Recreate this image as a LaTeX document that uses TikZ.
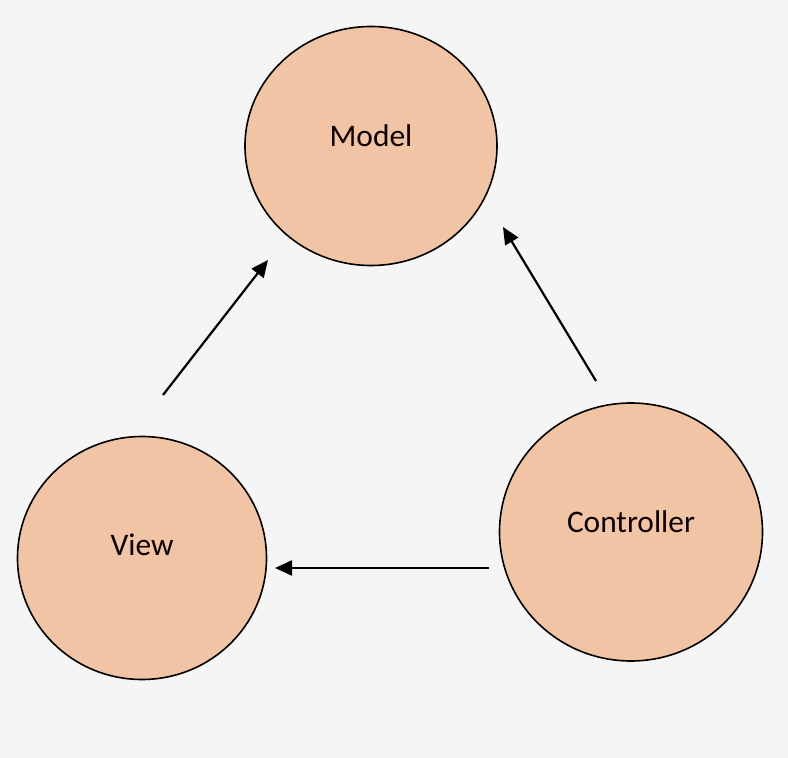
\documentclass[tikz,border=0pt]{standalone}
\usepackage{fontspec}
\setmainfont{Carlito}
\usetikzlibrary{positioning, arrows.meta, shapes.geometric, calc}
\definecolor{mvcfill}{RGB}{240,196,164}
\definecolor{mvcbg}{RGB}{246,245,245}

\tikzset{
    part/.style={ellipse, draw=black, line width=0.8pt, fill=mvcfill},
    tag/.style={font=\fontsize{15.7}{18}\selectfont, text=black!95!red},
    flow/.style={-{Triangle[length=8.5pt,width=7.5pt]}, line width=1.1pt}
}

\begin{document}
\begin{tikzpicture}[x=0.5pt, y=-0.5pt]
    \fill[mvcbg] (0,0) rectangle (788,758);
    \useasboundingbox (0,0) rectangle (788,758);

    % the three parts
    \node[part, minimum width=126pt, minimum height=119.5pt] (model) at (371,146) {};
    \node[part, minimum width=124.5pt, minimum height=121.5pt] (view) at (142,558) {};
    \node[part, minimum width=131.5pt, minimum height=129pt] (controller) at (631,532) {};

    \node[tag] (modeltxt) at ($(model)+(0,-10)$) {Model};
    \node[tag] (viewtxt) at ($(view)+(0,-13)$) {View};
    \node[tag] (controllertxt) at ($(controller)+(0,-10)$) {Controller};

    % arrow ends
    \coordinate (vmfrom) at (163,395);
    \coordinate (vmto) at (268,260);
    \coordinate (cmfrom) at (596,381);
    \coordinate (cmto) at (503,227);
    \coordinate (cvfrom) at (489,568);
    \coordinate (cvto) at (275,568);

    \draw[flow] (vmfrom) -- (vmto);
    \draw[flow] (cmfrom) -- (cmto);
    \draw[flow] (cvfrom) -- (cvto);
\end{tikzpicture}
\end{document}
